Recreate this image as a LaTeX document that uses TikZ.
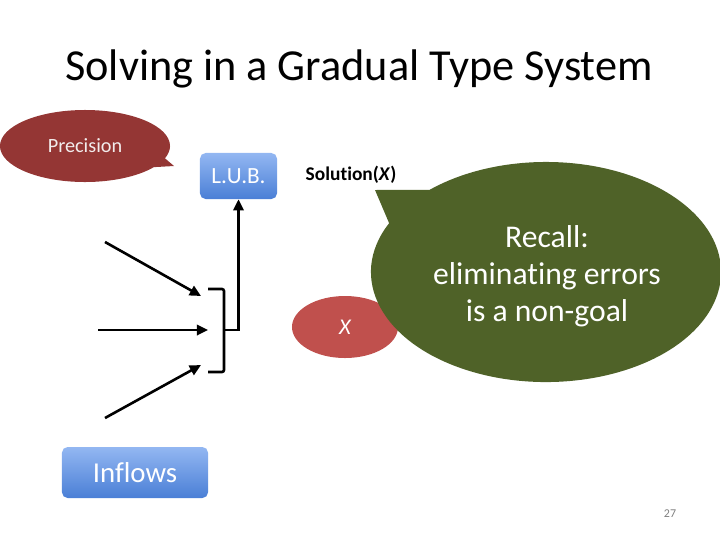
\documentclass[tikz,border=0pt]{standalone}
\usepackage{fontspec}
\setmainfont{Carlito}[Ligatures=NoCommon]
\usetikzlibrary{arrows.meta,positioning,calc,shapes.geometric,shapes.callouts}
\definecolor{gtsblue}{HTML}{4A7FD6}
\definecolor{gtsbluetop}{HTML}{93B7F2}
\definecolor{gtsred}{HTML}{943634}
\definecolor{gtsxred}{HTML}{C0504D}
\definecolor{gtsgreen}{HTML}{4F6228}
\definecolor{gtsink}{HTML}{000000}
\definecolor{gtsmuted}{HTML}{7F7F7F}
\definecolor{gtspale}{HTML}{F2ECEC}
\tikzset{
  gts/.style={x=0.025cm, y=-0.025cm},
  gtsbox/.style={rounded corners=4pt, top color=gtsbluetop, bottom color=gtsblue,
    draw=none, text=white, inner sep=0pt, align=center},
  gtsbubble/.style={ellipse callout, draw=none, inner sep=0pt, align=center},
  gtsarr/.style={-{Triangle[length=2.8mm,width=2.6mm]}, line width=1.85pt, draw=gtsink},
  gtsline/.style={line width=1.85pt, draw=gtsink, rounded corners=1.5pt},
}
\newcommand{\gtstitle}[1]{{\fontsize{31.5}{36}\selectfont #1}}

\begin{document}
\begin{tikzpicture}[gts]
  \useasboundingbox (0,0) rectangle (720,540);
  \node (title) at (359,69) {\gtstitle{Solving in a Gradual Type System}};
  % callout bubble on the left
  \node[gtsbubble, fill=gtsred, minimum width=4.25cm, minimum height=1.8cm,
    callout absolute pointer={(174,166)}, callout pointer arc=16] (prec) at (85,146) {};
  \node[text=gtspale, font=\fontsize{14.4}{16}\selectfont] at (85,146) {Precision};
  \node[gtsbox, minimum width=1.925cm, minimum height=1.15cm,
    font=\fontsize{16.5}{18}\selectfont] (lub) at (238.5,176) {L.U.B.};
  \node[gtsbox, minimum width=3.65cm, minimum height=1.275cm,
    font=\fontsize{20.5}{22}\selectfont] (infl) at (135,472.5) {Inflows};
  \node[font=\fontsize{13.8}{15}\selectfont\bfseries] (sol) at (351,175) {Solution(\textit{X})};
  \node[ellipse, fill=gtsxred, minimum width=2.65cm, minimum height=1.55cm, inner sep=0pt,
    text=white, font=\fontsize{16}{18}\selectfont\itshape] (x) at (345,327) {X};
  \node[gtsbubble, fill=gtsgreen, minimum width=8.75cm, minimum height=5.5cm,
    callout absolute pointer={(375,190)}, callout pointer arc=22] (recall) at (546,272) {};
  \node[text=white, font=\fontsize{22.5}{26.3}\selectfont, align=center] at (547,276)
    {Recall:\\eliminating errors\\is a non-goal};
  % inflow arrows and the bracket
  \coordinate (in1s) at (105,242);
  \coordinate (in1e) at (201,296);
  \coordinate (in2s) at (98,330);
  \coordinate (in2e) at (208,330);
  \coordinate (in3s) at (105,418);
  \coordinate (in3e) at (201,365);
  \coordinate (brtop) at (208,289);
  \coordinate (brbot) at (208,372);
  \coordinate (merge) at (224,330);
  \draw[gtsarr] (in1s) -- (in1e);
  \draw[gtsarr] (in2s) -- (in2e);
  \draw[gtsarr] (in3s) -- (in3e);
  \draw[gtsline] (brtop) -| (merge) |- (brbot);
  \draw[gtsarr] (merge) -| (lub.south);
  \node[text=gtsmuted, font=\fontsize{8.5}{10}\selectfont] (page) at (670,514) {27};
\end{tikzpicture}
\end{document}
